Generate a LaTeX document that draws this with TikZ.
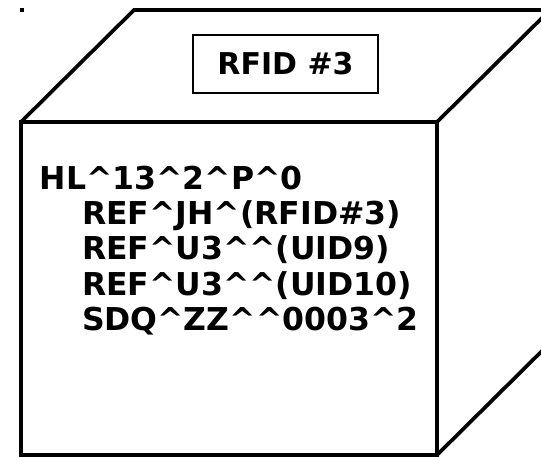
\documentclass[tikz,border=0pt]{standalone}
\usepackage{fontspec}
\setmainfont{DejaVu Sans}
\begin{document}
\begin{tikzpicture}[x=1pt,y=-1pt,
  edge/.style={line width=3.7pt,line join=miter,line cap=butt},
  label/.style={draw,line width=2.7pt,inner sep=0pt,minimum width=185pt,minimum height=58pt,font=\fontsize{30}{34}\selectfont\bfseries},
  codeline/.style={anchor=base west,inner sep=0pt,outer sep=0pt,font=\fontsize{31.5}{35}\selectfont\bfseries}]
\useasboundingbox (0,0) rectangle (541,457);
\clip (0,0) rectangle (541,457);
% corners
\coordinate (fTL) at (21,122);
\coordinate (fTR) at (437,122);
\coordinate (fBR) at (437,455);
\coordinate (fBL) at (21,455);
\coordinate (bTL) at (134,10);
\coordinate (bTR) at (550,10);
\coordinate (bBR) at (550,343);
% small dot
\fill (19.5,8) rectangle (23.5,12);
% cube
\draw[edge] (fTL) -- (fTR) -- (fBR) -- (fBL) -- cycle;
\draw[edge] (fTL) -- (bTL) -- (bTR) -- (fTR);
\draw[edge] (bTR) -- (bBR) -- (fBR);
% label box
\node[label] (rfid) at (285.5,64) {RFID \#3};
% code text
\node[codeline] (l1) at (39.8,190) {HL\^{}13\^{}2\^{}P\^{}0};
\node[codeline] (l2) at (82,225) {REF\^{}JH\^{}(RFID\#3)};
\node[codeline] (l3) at (82,260) {REF\^{}U3\^{}\^{}(UID9)};
\node[codeline] (l4) at (82,295) {REF\^{}U3\^{}\^{}(UID10)};
\node[codeline] (l5) at (82,330) {SDQ\^{}ZZ\^{}\^{}0003\^{}2};
\end{tikzpicture}
\end{document}
